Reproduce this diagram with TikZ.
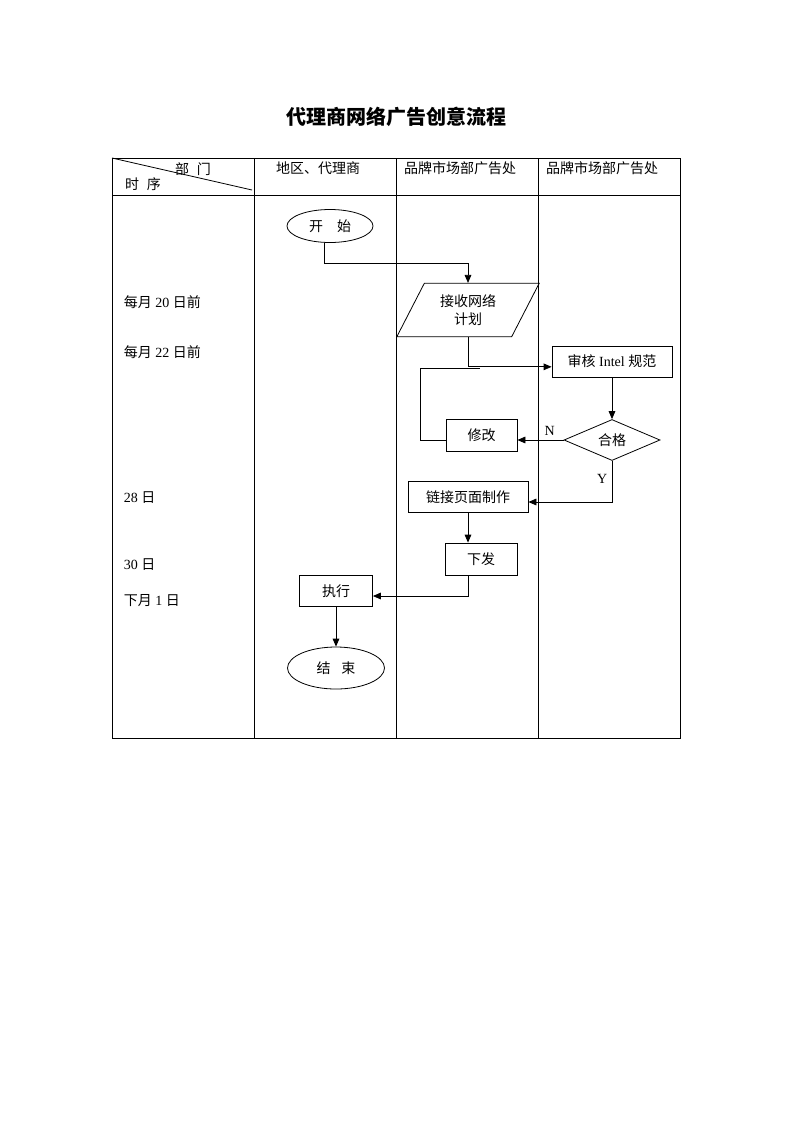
\documentclass[tikz,border=0pt]{standalone}
\usepackage{fontspec}
\setmainfont{Liberation Serif}
\newfontfamily\cjk{Noto Sans CJK SC}
\newcommand{\zh}[1]{{\cjk #1}}
\usetikzlibrary{shapes.geometric,arrows.meta}

\begin{document}
\begin{tikzpicture}[x=0.75pt,y=-0.75pt,line width=0.6pt,font=\fontsize{10.5}{14}\selectfont,
  box/.style={draw,rectangle,inner sep=0pt},
  ends/.style={draw,ellipse,inner sep=0pt},
  arr/.style={-{Triangle[length=6pt,width=5pt]}}]
  \useasboundingbox (0,0) rectangle (793,1122);
  \node (title) at (396,117) {\fontsize{15}{18}\selectfont\cjk\bfseries 代理商网络广告创意流程};

  % table
  \draw (112,158) rectangle (680,738);
  \draw (112,195) -- (680,195);
  \foreach \x in {254,396,538} \draw (\x,158) -- (\x,738);
  \draw (112,158) -- (252,190);
  \node (bumen) at (193,169) {\zh{部\hspace{6pt}门}};
  \node (shixu) at (143,184) {\zh{时\hspace{6pt}序}};
  \node (dailishang) at (318,168) {\zh{地区、代理商}};
  \node (pinpai1) at (460,168) {\zh{品牌市场部广告处}};
  \node (pinpai2) at (602,168) {\zh{品牌市场部广告处}};

  \node[anchor=west] (t20) at (119,302) {\zh{每月} 20 \zh{日前}};
  \node[anchor=west] (t22) at (119,352) {\zh{每月} 22 \zh{日前}};
  \node[anchor=west] (t28) at (119,498) {28 \zh{日}};
  \node[anchor=west] (t30) at (119,565) {30 \zh{日}};
  \node[anchor=west] (t1) at (119,601) {\zh{下月} 1 \zh{日}};

  % flow
  \node[ends,minimum width=64.5pt,minimum height=24.75pt] (kaishi) at (330,226) {\zh{开\quad 始}};
  \node[draw,trapezium,trapezium left angle=61,trapezium right angle=119,trapezium stretches,
    minimum width=107pt,minimum height=40pt,inner sep=0pt,align=center] (jieshou) at (468,310)
    {\zh{接收网络}\\\zh{计划}};
  \node[box,minimum width=90pt,minimum height=23.25pt] (shenhe) at (612,361.5) {\zh{审核} Intel \zh{规范}};
  \node[box,minimum width=53.25pt,minimum height=24pt] (xiugai) at (481.5,435) {\zh{修改}};
  \node[draw,diamond,aspect=2.34,inner sep=0pt,minimum width=72pt,minimum height=30.75pt] (hege) at (612,440) {\zh{合格}};
  \node[box,minimum width=90pt,minimum height=23.25pt] (lianjie) at (468,497) {\zh{链接页面制作}};
  \node[box,minimum width=54pt,minimum height=24pt] (xiafa) at (481,559) {\zh{下发}};
  \node[box,minimum width=54.75pt,minimum height=23.25pt] (zhixing) at (336,591) {\zh{执行}};
  \node[ends,minimum width=72.75pt,minimum height=31.5pt] (jieshu) at (336,668) {\zh{结\hspace{8pt}束}};

  \coordinate (k1) at (324,263);
  \coordinate (loop) at (420,368);
  \coordinate (merge) at (480,368);

  \draw[arr] (kaishi.south -| k1) -- (k1) -| (jieshou.north);
  \draw[arr] (jieshou.south) |- ([yshift=-4pt]shenhe.west);
  \draw (xiugai.west |- hege.west) -| (loop) -- (merge);
  \draw[arr] (shenhe.south) -- (hege.north);
  \draw[arr] (hege.west) -- (hege.west -| xiugai.east) node[pos=0.3,above] {N};
  \draw[arr] (hege.south) |- ([yshift=-3.75pt]lianjie.east) node[pos=0.22,left] {Y};
  \draw[arr] (lianjie.south) -- (lianjie.south |- xiafa.north);
  \draw[arr] (lianjie.south |- xiafa.south) |- ([yshift=-3.75pt]zhixing.east);
  \draw[arr] (zhixing) -- (jieshu);
\end{tikzpicture}
\end{document}
